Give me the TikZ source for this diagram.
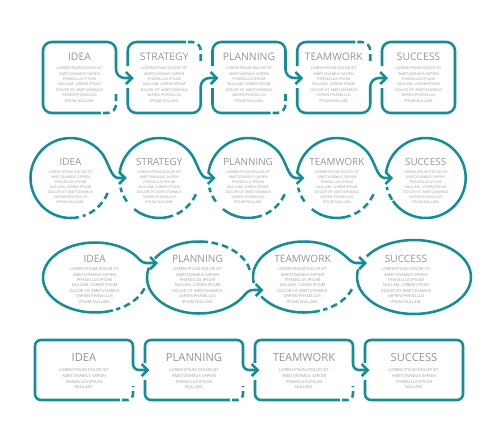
\documentclass[tikz,border=0pt]{standalone}
\usepackage{fontspec}
\setmainfont{Open Sans}
\usetikzlibrary{arrows.meta,calc}
\definecolor{tealc}{RGB}{20,142,150}
\definecolor{ttlc}{RGB}{150,150,150}
\definecolor{bdyc}{RGB}{158,158,158}
\newcommand\loremseven{LOREM IPSUM DOLOR SIT\\AMET,VIVAMUS SAPIEN\\PHASELLUS IPSUM\\NULLAM. LOREM IPSUM\\DOLOR SIT AMET,VIVAMUS\\SAPIEN PHASELLUS\\IPSUM NULLAM.}
\newcommand\loremfour{LOREM IPSUM DOLOR SIT\\AMET,VIVAMUS SAPIEN\\PHASELLUS IPSUM\\NULLAM.}
\tikzset{
  ln/.style={draw=tealc, line width=1.9pt},
  dsh/.style={ln, dash pattern=on 5pt off 3pt},
  arr/.style={ln, -{Straight Barb[length=4.5pt,width=9pt]}},
  rca/.style={rounded corners=6.5pt},
  rcb/.style={rounded corners=4.5pt},
  ttla/.style={text=ttlc, inner sep=0pt, font=\fontsize{7.8pt}{9pt}\selectfont},
  ttlb/.style={text=ttlc, inner sep=0pt, font=\fontsize{7.4pt}{9pt}\selectfont},
  ttlcc/.style={text=ttlc, inner sep=0pt, font=\fontsize{7.6pt}{9pt}\selectfont},
  ttld/.style={text=ttlc, inner sep=0pt, font=\fontsize{8.4pt}{10pt}\selectfont},
  boda/.style={text=bdyc, inner sep=0pt, align=center, font=\fontsize{2.85pt}{4.05pt}\selectfont},
  bodb/.style={text=bdyc, inner sep=0pt, align=center, font=\fontsize{2.75pt}{3.8pt}\selectfont},
  bodc/.style={text=bdyc, inner sep=0pt, align=center, font=\fontsize{3.05pt}{4.05pt}\selectfont},
  bodd/.style={text=bdyc, inner sep=0pt, align=center, font=\fontsize{3.1pt}{4.35pt}\selectfont},
}
\begin{document}
\begin{tikzpicture}[x=0.75pt,y=-0.75pt]
\useasboundingbox (0,0) rectangle (500,440);
\fill[white] (0,0) rectangle (500,440);

% ---------- Row 1: rounded squares ----------
\coordinate (p12) at (133.75,78);
\coordinate (p23) at (218.5,78);
\coordinate (p34) at (303.25,78);
\coordinate (p45) at (388,78);
\draw[arr,rca] (101,113) -- (43,113) -- (43,42) -- (116,42) -- (116,78) -- (p12);
\draw[dsh,rca] (103,113) -- (116,113) -- (116,92);
\draw[ln,rca] (127.75,66) -- (127.75,42) -- (185.75,42);
\draw[dsh,rca] (187.75,42) -- (200.75,42) -- (200.75,64);
\draw[arr,rca] (127.75,88) -- (127.75,113) -- (200.75,113) -- (200.75,78) -- (p23);
\draw[ln,rca] (270.5,113) -- (212.5,113) -- (212.5,88);
\draw[dsh,rca] (272.5,113) -- (285.5,113) -- (285.5,92);
\draw[arr,rca] (212.5,66) -- (212.5,42) -- (285.5,42) -- (285.5,78) -- (p34);
\draw[ln,rca] (297.25,66) -- (297.25,42) -- (355.25,42);
\draw[dsh,rca] (357.25,42) -- (370.25,42) -- (370.25,64);
\draw[arr,rca] (297.25,88) -- (297.25,113) -- (370.25,113) -- (370.25,78) -- (p45);
\draw[ln,rca] (382,66) -- (382,42) -- (455,42) -- (455,113) -- (382,113) -- (382,88);
\node[ttla] (t11) at (79.5,57) {IDEA};
\node[ttla] (t12) at (164.25,57) {STRATEGY};
\node[ttla] (t13) at (249,57) {PLANNING};
\node[ttla] (t14) at (333.75,57) {TEAMWORK};
\node[ttla] (t15) at (418.5,57) {SUCCESS};
\node[boda] (d11) at (79.5,84.5) {\loremseven};
\node[boda] (d12) at (164.25,84.5) {\loremseven};
\node[boda] (d13) at (249,84.5) {\loremseven};
\node[boda] (d14) at (333.75,84.5) {\loremseven};
\node[boda] (d15) at (418.5,84.5) {\loremseven};

% ---------- Row 2: circles ----------
\coordinate (k1) at (70.5,178);
\coordinate (k2) at (159.3,178);
\coordinate (k3) at (248.1,178);
\coordinate (k4) at (336.9,178);
\coordinate (k5) at (425.7,178);
\coordinate (q12) at (126.8,178);
\coordinate (q23) at (215.6,178);
\coordinate (q34) at (304.4,178);
\coordinate (q45) at (393.2,178);
% circle 1
\draw[arr] ($(k1)+(78:40)$) arc[start angle=78,end angle=320,radius=40]
  .. controls +(7.7,9.2) and +(-8,0) .. ($(k1)+(48,0)$) -- (q12);
\draw[dsh] ($(k1)+(22:40)$) arc[start angle=22,end angle=72,radius=40];
% circles 2-4
\foreach \c/\q in {k2/q23,k3/q34,k4/q45}{
  \draw[ln] ($(\c)+(70:40)$) arc[start angle=70,end angle=129,radius=40];
  \draw[dsh] ($(\c)+(144:40)$) arc[start angle=144,end angle=166,radius=40];
  \draw[dsh] ($(\c)+(24:40)$) arc[start angle=24,end angle=64,radius=40];
  \draw[arr] ($(\c)+(188:40)$) arc[start angle=188,end angle=320,radius=40]
    .. controls +(7.7,9.2) and +(-8,0) .. ($(\c)+(48,0)$) -- (\q);
}
% circle 5
\draw[ln] ($(k5)+(188:40)$) arc[start angle=188,end angle=505,radius=40];
\draw[dsh] ($(k5)+(147:40)$) arc[start angle=147,end angle=167,radius=40];
\node[ttlb] (t21) at (70.5,162) {IDEA};
\node[ttlb] (t22) at (159.3,162) {STRATEGY};
\node[ttlb] (t23) at (248.1,162) {PLANNING};
\node[ttlb] (t24) at (336.9,162) {TEAMWORK};
\node[ttlb] (t25) at (425.7,162) {SUCCESS};
\node[bodb] (d21) at (70.5,187) {\loremseven};
\node[bodb] (d22) at (159.3,187) {\loremseven};
\node[bodb] (d23) at (248.1,187) {\loremseven};
\node[bodb] (d24) at (336.9,187) {\loremseven};
\node[bodb] (d25) at (425.7,187) {\loremseven};

% ---------- Row 3: ellipses ----------
\coordinate (e1) at (95,277.5);
\coordinate (e2) at (199,277.5);
\coordinate (e3) at (304,277);
\coordinate (e4) at (414,277);
\coordinate (r12) at (158,263);
\coordinate (r23) at (263.5,290);
\coordinate (r34) at (367,263);
% ellipse 1
\draw[arr] ($(e1)+(70:52 and 35)$) arc[start angle=70,end angle=317,x radius=52,y radius=35]
  .. controls +(5.7,4.1) and +(-5,0) .. (146,263) -- (r12);
\draw[dsh] ($(e1)+(18:52 and 35)$) arc[start angle=18,end angle=66,x radius=52,y radius=35];
% ellipse 2
\draw[ln] ($(e2)+(212:52 and 36)$) arc[start angle=212,end angle=280,x radius=52,y radius=36];
\draw[dsh] ($(e2)+(284:52 and 36)$) arc[start angle=284,end angle=352,x radius=52,y radius=36];
\draw[arr] ($(e2)+(196:52 and 36)$) arc[start angle=196,end angle=30,x radius=52,y radius=36]
  .. controls +(3.8,-4.6) and +(-4,0) .. (254,290) -- (r23);
% ellipse 3
\draw[ln] ($(e3)+(72:51 and 35.5)$) arc[start angle=72,end angle=147,x radius=51,y radius=35.5];
\draw[dsh] ($(e3)+(20:51 and 35.5)$) arc[start angle=20,end angle=68,x radius=51,y radius=35.5];
\draw[arr] ($(e3)+(170:51 and 35.5)$) arc[start angle=170,end angle=320,x radius=51,y radius=35.5]
  .. controls +(5.4,4.5) and +(-4,0) .. (356,263) -- (r34);
% ellipse 4
\draw[ln] ($(e4)+(214:57 and 37)$) arc[start angle=214,end angle=552,x radius=57,y radius=37];
\node[ttlcc] (t31) at (94.7,258.5) {IDEA};
\node[ttlcc] (t32) at (197.5,258.5) {PLANNING};
\node[ttlcc] (t33) at (302.5,258.5) {TEAMWORK};
\node[ttlcc] (t34) at (406,258.5) {SUCCESS};
\node[bodc] (d31) at (94.7,285.5) {\loremseven};
\node[bodc] (d32) at (197.5,285.5) {\loremseven};
\node[bodc] (d33) at (302.5,285.5) {\loremseven};
\node[bodc] (d34) at (406,285.5) {\loremseven};

% ---------- Row 4: rectangles ----------
\coordinate (s12) at (149.5,370);
\coordinate (s23) at (259.5,370);
\coordinate (s34) at (369.5,370);
\draw[arr,rcb] (120,400) -- (35,400) -- (35,340) -- (133,340) -- (133,370) -- (s12);
\draw[dsh,rcb] (122,400) -- (133,400) -- (133,386);
\draw[ln,rcb] (230,400) -- (145,400) -- (145,380);
\draw[dsh,rcb] (232,400) -- (243,400) -- (243,386);
\draw[arr,rcb] (145,363) -- (145,340) -- (243,340) -- (243,370) -- (s23);
\draw[ln,rcb] (340,400) -- (255,400) -- (255,380);
\draw[dsh,rcb] (342,400) -- (353,400) -- (353,386);
\draw[arr,rcb] (255,363) -- (255,340) -- (353,340) -- (353,370) -- (s34);
\draw[ln,rcb] (365,363) -- (365,340) -- (463,340) -- (463,400) -- (365,400) -- (365,380);
\node[ttld] (t41) at (84,357) {IDEA};
\node[ttld] (t42) at (194,357) {PLANNING};
\node[ttld] (t43) at (304,357) {TEAMWORK};
\node[ttld] (t44) at (414,357) {SUCCESS};
\node[bodd] (d41) at (84,378.7) {\loremfour};
\node[bodd] (d42) at (194,378.7) {\loremfour};
\node[bodd] (d43) at (304,378.7) {\loremfour};
\node[bodd] (d44) at (414,378.7) {\loremfour};
\end{tikzpicture}
\end{document}
